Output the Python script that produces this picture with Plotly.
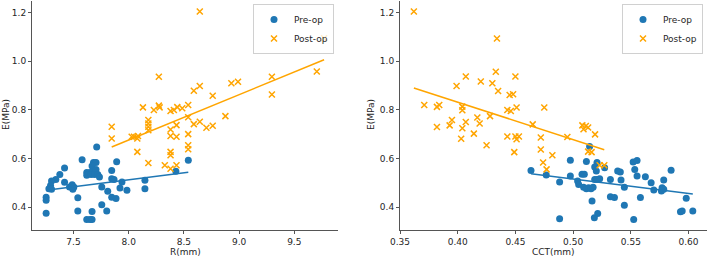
import numpy as np
import plotly.graph_objects as go

# ---- data ----
R_pre = [7.710, 7.578, 7.681, 7.704, 7.891, 7.668, 7.419, 7.846, 7.620, 7.650,
         7.674, 7.704, 7.620, 7.659, 7.690, 7.720, 7.735, 7.376, 7.340, 7.301,
         7.419, 7.846, 7.867, 7.939, 8.147, 8.427, 7.292, 7.277, 7.301, 7.464,
         7.488, 7.503, 7.494, 7.756, 7.810, 7.921, 7.984, 8.147, 7.846, 7.885,
         7.252, 7.252, 7.539, 7.252, 7.539, 7.668, 7.756, 7.801, 7.620, 7.650,
         7.668, 8.540]
E_pre_R = [0.647, 0.595, 0.583, 0.583, 0.586, 0.569, 0.561, 0.551, 0.542, 0.542,
           0.545, 0.555, 0.531, 0.534, 0.534, 0.534, 0.524, 0.534, 0.513, 0.507,
           0.502, 0.517, 0.513, 0.503, 0.510, 0.547, 0.489, 0.476, 0.473, 0.483,
           0.492, 0.483, 0.473, 0.483, 0.465, 0.479, 0.469, 0.476, 0.441, 0.435,
           0.441, 0.428, 0.439, 0.375, 0.384, 0.382, 0.410, 0.384, 0.349, 0.349,
           0.349, 0.593]

R_post = [8.644, 9.770, 9.704, 8.273, 9.297, 8.930, 8.990, 8.590, 8.644, 9.297,
          8.761, 8.129, 8.228, 8.273, 8.280, 8.379, 8.409, 8.440, 8.485, 8.539,
          8.539, 8.876, 8.590, 8.644, 8.704, 8.761, 7.846, 7.846, 8.027, 8.048,
          8.078, 8.084, 8.178, 8.178, 8.178, 8.178, 8.379, 8.433, 8.379, 8.433,
          8.539, 8.539, 8.539, 8.078, 8.379, 8.379, 8.178, 8.327, 8.379, 8.433]
E_post_R = [1.204, 1.094, 0.957, 0.936, 0.936, 0.909, 0.915, 0.878, 0.898, 0.863,
            0.858, 0.810, 0.799, 0.817, 0.810, 0.795, 0.799, 0.811, 0.806, 0.820,
            0.769, 0.774, 0.741, 0.751, 0.726, 0.734, 0.730, 0.682, 0.689, 0.689,
            0.682, 0.692, 0.758, 0.744, 0.730, 0.716, 0.719, 0.737, 0.692, 0.689,
            0.700, 0.654, 0.638, 0.627, 0.627, 0.613, 0.581, 0.572, 0.558, 0.572]

CCT_pre = [0.5143, 0.4976, 0.5115, 0.5207, 0.5187, 0.5201, 0.5273, 0.5520, 0.5554, 0.5534,
           0.5849, 0.4635, 0.4767, 0.4976, 0.5077, 0.5097, 0.5187, 0.5207, 0.5230, 0.5386,
           0.5409, 0.5554, 0.5626, 0.5785, 0.5323, 0.5415, 0.5676, 0.4883, 0.5039, 0.5048,
           0.5091, 0.5115, 0.5134, 0.5155, 0.5173, 0.5444, 0.5771, 0.5785, 0.5765, 0.5699,
           0.5164, 0.5323, 0.5358, 0.5583, 0.5980, 0.5444, 0.5930, 0.5945, 0.6037, 0.5213,
           0.5184, 0.4883, 0.5525]
E_pre_C = [0.649, 0.593, 0.587, 0.583, 0.565, 0.548, 0.562, 0.585, 0.592, 0.555,
           0.552, 0.551, 0.532, 0.528, 0.535, 0.535, 0.514, 0.514, 0.517, 0.548,
           0.544, 0.528, 0.525, 0.511, 0.514, 0.511, 0.500, 0.503, 0.507, 0.493,
           0.482, 0.476, 0.480, 0.476, 0.482, 0.482, 0.480, 0.473, 0.466, 0.470,
           0.425, 0.443, 0.440, 0.440, 0.436, 0.408, 0.381, 0.384, 0.384, 0.374,
           0.356, 0.352, 0.349]

CCT_post = [0.362, 0.434, 0.433, 0.407, 0.450, 0.420, 0.430, 0.399, 0.435, 0.445,
            0.448, 0.371, 0.382, 0.384, 0.404, 0.404, 0.443, 0.446, 0.451, 0.475,
            0.428, 0.417, 0.419, 0.395, 0.393, 0.407, 0.404, 0.382, 0.465, 0.414,
            0.403, 0.443, 0.450, 0.453, 0.451, 0.472, 0.425, 0.449, 0.472, 0.482,
            0.474, 0.477, 0.508, 0.509, 0.513, 0.511, 0.519, 0.495, 0.513, 0.516,
            0.523, 0.527]
E_post_C = [1.204, 1.093, 0.956, 0.937, 0.937, 0.916, 0.909, 0.898, 0.877, 0.861,
            0.864, 0.820, 0.812, 0.820, 0.813, 0.798, 0.799, 0.795, 0.809, 0.809,
            0.774, 0.768, 0.744, 0.758, 0.736, 0.750, 0.724, 0.729, 0.740, 0.702,
            0.681, 0.690, 0.690, 0.690, 0.679, 0.686, 0.654, 0.626, 0.637, 0.613,
            0.583, 0.555, 0.736, 0.720, 0.727, 0.733, 0.699, 0.688, 0.628, 0.626,
            0.572, 0.572]

series_names = ["Pre-op", "Post-op"]
x_titles = ["R(mm)", "CCT(mm)"]
y_title = "E(MPa)"

BLUE = "#1f77b4"
ORANGE = "#FFA500"
FONT = "DejaVu Sans"
TXT = "#262626"
AX = "#555555"


def fit_line(x, y):
    x = np.asarray(x, float)
    y = np.asarray(y, float)
    k, b = np.polyfit(x, y, 1)
    xs = np.array([x.min(), x.max()])
    return xs, k * xs + b


fig = go.Figure()

panels = [
    (R_pre, E_pre_R, R_post, E_post_R, "x", "y", "legend"),
    (CCT_pre, E_pre_C, CCT_post, E_post_C, "x2", "y2", "legend2"),
]
for xp, yp, xq, yq, xa, ya, lg in panels:
    fig.add_trace(go.Scatter(x=xp, y=yp, mode="markers", name=series_names[0],
                             marker=dict(color=BLUE, size=7, symbol="circle"),
                             xaxis=xa, yaxis=ya, legend=lg))
    fig.add_trace(go.Scatter(x=xq, y=yq, mode="markers", name=series_names[1],
                             marker=dict(color=ORANGE, size=6, symbol="x-thin",
                                         line=dict(color=ORANGE, width=1.5)),
                             xaxis=xa, yaxis=ya, legend=lg))
    lx, ly = fit_line(xp, yp)
    fig.add_trace(go.Scatter(x=lx, y=ly, mode="lines", line=dict(color=BLUE, width=1.5),
                             showlegend=False, hoverinfo="skip", xaxis=xa, yaxis=ya))
    lx, ly = fit_line(xq, yq)
    fig.add_trace(go.Scatter(x=lx, y=ly, mode="lines", line=dict(color=ORANGE, width=1.5),
                             showlegend=False, hoverinfo="skip", xaxis=xa, yaxis=ya))

W, H = 708, 258
axis_common = dict(showline=True, linecolor=AX, linewidth=1, ticks="outside",
                   ticklen=3, tickcolor=AX, tickwidth=1, showgrid=False,
                   zeroline=False, automargin=False,
                   tickfont=dict(family=FONT, size=9, color=TXT))
ydom = [1 - 230 / H, 1 - 1 / H]

legend_common = dict(y=1 - 4 / H, yanchor="top", xanchor="right",
                     bgcolor="rgba(255,255,255,0.8)", bordercolor="#d0d0d0",
                     borderwidth=1, font=dict(family=FONT, size=9, color=TXT),
                     itemwidth=30, tracegroupgap=0)

fig.update_layout(
    width=W, height=H,
    margin=dict(l=0, r=0, t=0, b=0, autoexpand=False),
    paper_bgcolor="white", plot_bgcolor="white",
    font=dict(family=FONT, size=9, color=TXT),
    xaxis=dict(domain=[32 / W, 338 / W], range=[7.124, 9.896], tick0=7.5, dtick=0.5,
               tickformat=".1f", anchor="y", **axis_common),
    yaxis=dict(domain=ydom, range=[0.306, 1.247], tick0=0.4, dtick=0.2,
               tickformat=".1f", anchor="x", **axis_common),
    xaxis2=dict(domain=[400 / W, 707 / W], range=[0.350, 0.616], tick0=0.35, dtick=0.05,
                tickformat=".2f", anchor="y2", **axis_common),
    yaxis2=dict(domain=ydom, range=[0.306, 1.247], tick0=0.4, dtick=0.2,
                tickformat=".1f", anchor="x2", **axis_common),
    legend=dict(x=334 / W, **legend_common),
    legend2=dict(x=703 / W, **legend_common),
)

annos = [
    dict(text=x_titles[0], x=185 / W, y=1 - 252 / H),
    dict(text=x_titles[1], x=553 / W, y=1 - 252 / H),
    dict(text=y_title, x=6 / W, y=1 - 115 / H, textangle=-90),
    dict(text=y_title, x=371 / W, y=1 - 115 / H, textangle=-90),
]
for a in annos:
    fig.add_annotation(xref="paper", yref="paper", showarrow=False,
                       xanchor="center", yanchor="middle",
                       font=dict(family=FONT, size=9, color=TXT), **a)

fig.write_html("out.html",
               config={"displayModeBar": False},
               post_script="document.body.style.margin='0';"
                           "document.body.style.overflow='hidden';")
